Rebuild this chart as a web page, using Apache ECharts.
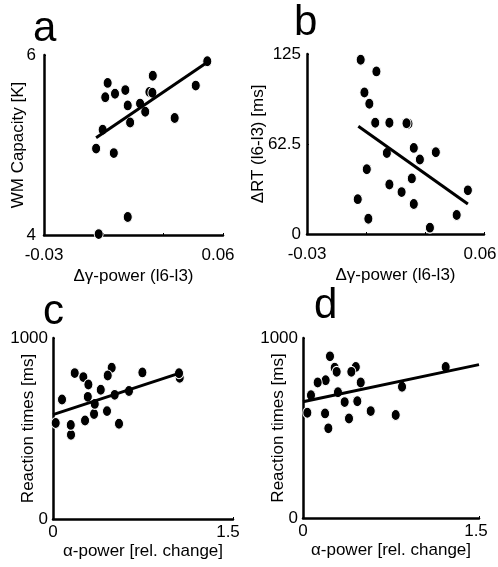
<!DOCTYPE html>
<html style="height:100%;">
<head>
    <meta charset="utf-8">
    <script src="https://cdn.jsdelivr.net/npm/echarts@6/dist/echarts.min.js"></script>
</head>
<body style="height:100%;margin:0;background:#fff;">
    <div id="main" style="width:498px;height:567px;"></div>
<script>
    // panel a: gamma power vs WM capacity
    var aPoints = [
        [0.023, 5.59], [0.0328, 6.02], [0.0521, 5.93], [0.0247, 5.77], [0.0020, 5.69],
        [0.0109, 5.61], [0.0057, 5.57], [0.0008, 5.53], [0.0463, 5.66], [0.0245, 5.58],
        [0.0121, 5.44], [0.0183, 5.46], [0.0209, 5.37], [0.0133, 5.25], [0.0357, 5.30],
        [-0.0005, 5.17], [-0.0038, 4.96], [0.0051, 4.91], [0.0121, 4.20], [-0.0025, 4.01]
    ];
    var aLine = [[-0.0038, 5.08], [0.0521, 5.92]];

    // panel b: gamma power vs delta RT
    var bPoints = [
        [0.0216, 76.6], [-0.0027, 121.0], [0.0053, 112.9], [-0.0008, 98.3], [0.0017, 90.5],
        [0.0047, 77.3], [0.0119, 77.3], [0.0206, 76.9], [0.0243, 59.8], [0.0106, 56.3],
        [0.0355, 56.8], [0.0274, 51.7], [0.0004, 45.0], [0.0233, 38.6], [0.0119, 34.4],
        [0.0181, 29.1], [0.0518, 30.3], [-0.0042, 24.2], [0.0243, 20.8], [0.0461, 13.2],
        [0.0012, 10.6], [0.0325, 4.4]
    ];
    var bLine = [[-0.0039, 74.8], [0.0518, 20.8]];

    // panel c: alpha power vs RT
    var cPoints = [
        [0.29, 675], [0.15, 465], [0.342, 580], [0.489, 836], [1.056, 780],
        [0.181, 806], [0.253, 784], [0.456, 793], [0.745, 810], [1.05, 805],
        [0.295, 743], [0.075, 660], [0.398, 714], [0.514, 686], [0.633, 707],
        [0.348, 636], [0.45, 596], [0.0225, 530], [0.148, 520], [0.267, 544],
        [0.55, 526]
    ];
    var cLine = [[0, 577], [1.056, 806]];

    // panel d: alpha power vs RT
    var dPoints = [
        [0.27, 835], [0.45, 839], [0.193, 765],
        [0.230, 898], [0.287, 812], [0.412, 812], [1.216, 839], [0.125, 753],
        [0.492, 753], [0.844, 729], [0.068, 682], [0.298, 699], [0.355, 644],
        [0.463, 649], [0.037, 585], [0.188, 581], [0.577, 594], [0.790, 572],
        [0.392, 553], [0.216, 498]
    ];
    var dLine = [[0, 646], [1.5, 852]];

    var panelLetters = ['a', 'b', 'c', 'd'];
    var xNames = ['Δγ-power (l6-l3)', 'Δγ-power (l6-l3)', 'α-power [rel. change]', 'α-power [rel. change]'];
    var yNames = ['WM Capacity [K]', 'ΔRT (l6-l3) [ms]', 'Reaction times [ms]', 'Reaction times [ms]'];

    var font = 'Liberation Sans, Arial, sans-serif';

    function xAxisFor(i, min, max, interval, labelMargin, nameGap, maxPad) {
        return {
            gridIndex: i, type: 'value', min: min, max: max, interval: interval,
            name: xNames[i], nameLocation: 'middle', nameGap: nameGap, nameMoveOverlap: false,
            nameTextStyle: {color: '#000', fontSize: 17, fontFamily: font},
            axisLine: {onZero: false, lineStyle: {color: '#000', width: 2.5}},
            axisTick: {show: true, inside: true, length: 2, lineStyle: {color: '#000'}},
            splitLine: {show: false},
            axisLabel: {
                color: '#000', fontSize: 17, fontFamily: font, margin: labelMargin,
                showMinLabel: true, showMaxLabel: true, hideOverlap: false,
                formatter: function (v) {
                    if (v < min + 1e-9) return String(v);
                    if (v > max - 1e-9) return '{r|' + v + '}';
                    return '';
                },
                rich: {r: {color: '#000', fontSize: 17, fontFamily: font, padding: [0, maxPad, 0, 0]}}
            }
        };
    }
    function yAxisFor(i, min, max, interval, nameGap, labelMargin) {
        return {
            gridIndex: i, type: 'value', min: min, max: max, interval: interval,
            name: yNames[i], nameLocation: 'middle', nameGap: nameGap, nameRotate: 90,
            nameMoveOverlap: false,
            nameTextStyle: {color: '#000', fontSize: 17, fontFamily: font},
            axisLine: {onZero: false, lineStyle: {color: '#000', width: 2.5}},
            axisTick: {show: true, inside: true, length: 2, lineStyle: {color: '#000'}},
            splitLine: {show: false},
            axisLabel: {
                color: '#000', fontSize: 17, fontFamily: font, margin: labelMargin,
                hideOverlap: false,
                formatter: function (v) { return String(v); }
            }
        };
    }
    function dots(i, data) {
        return {
            type: 'scatter', xAxisIndex: i, yAxisIndex: i, data: data,
            symbol: 'circle', symbolSize: [9, 11], z: 2,
            itemStyle: {color: '#000', borderColor: '#fff', borderWidth: 1, opacity: 1}
        };
    }
    function fit(i, data) {
        return {
            type: 'line', xAxisIndex: i, yAxisIndex: i, data: data,
            showSymbol: false, symbol: 'none', z: 3, animation: false,
            lineStyle: {color: '#000', width: 3}
        };
    }

    var letterPos = [[33, 43], [294, 37], [43, 326], [314, 320]];

    function grid(l, t, w, h) {
        return {left: l, top: t, width: w, height: h, containLabel: false, outerBoundsMode: 'none'};
    }

    var option = {
        backgroundColor: '#fff',
        animation: false,
        grid: [
            grid(44, 55, 179, 180),
            grid(307, 54, 177, 180),
            grid(53, 338, 180, 181),
            grid(303, 338, 176, 180)
        ],
        xAxis: [
            xAxisFor(0, -0.03, 0.06, 0.03, 12, 33, 10),
            xAxisFor(1, -0.03, 0.06, 0.03, 12, 33, 8),
            xAxisFor(2, 0, 1.5, 1.5, 5, 24, 10),
            xAxisFor(3, 0, 1.5, 1.5, 5, 24, 6)
        ],
        yAxis: [
            yAxisFor(0, 4, 6, 2, 17, 8),
            yAxisFor(1, 0, 125, 62.5, 40, 6),
            yAxisFor(2, 0, 1000, 1000, 16, 5),
            yAxisFor(3, 0, 1000, 1000, 16, 5)
        ],
        graphic: panelLetters.map(function (t, i) {
            return {
                type: 'text', left: letterPos[i][0], top: letterPos[i][1] - 35,
                style: {text: t, font: '42px ' + font, fill: '#000'}
            };
        }),
        series: [
            dots(0, aPoints), fit(0, aLine),
            dots(1, bPoints), fit(1, bLine),
            dots(2, cPoints), fit(2, cLine),
            dots(3, dPoints), fit(3, dLine)
        ]
    };

    var chart = echarts.init(document.getElementById('main'));
    chart.setOption(option);
</script>
</body>
</html>
